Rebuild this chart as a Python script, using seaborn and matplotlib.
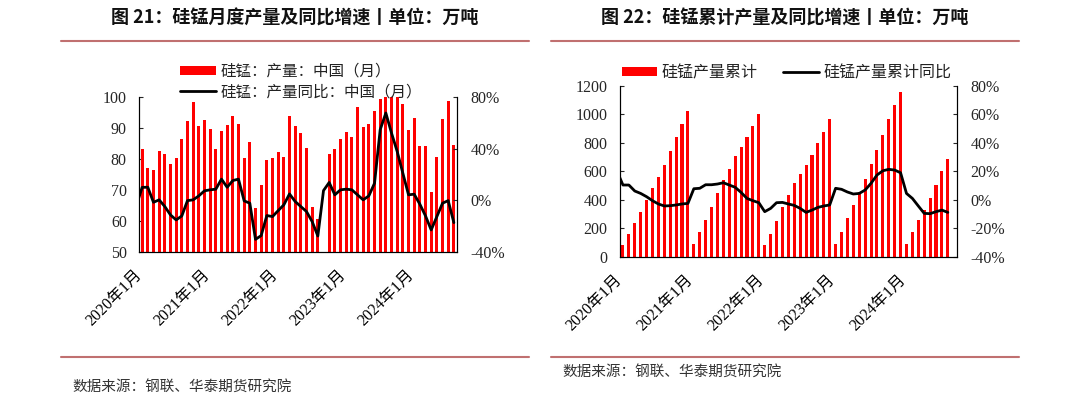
import numpy as np
import pandas as pd
import matplotlib
matplotlib.use("Agg")
import matplotlib.pyplot as plt
import seaborn as sns
from matplotlib.patches import Patch
from matplotlib.lines import Line2D
from matplotlib.transforms import ScaledTranslation

sns.set_theme(style="white")
plt.rcParams["font.family"] = ["Noto Sans CJK SC", "DejaVu Sans"]

# ---------------- data ----------------
tick_labels = ["2020年1月", "2021年1月", "2022年1月", "2023年1月", "2024年1月"]

# monthly production 2020-01 .. 2024-08 (万吨); 2022-09 missing in source chart
mon_prod = [83.2, 77.0, 76.6, 82.7, 81.6, 78.5, 80.3, 86.5, 92.3, 98.5, 90.6, 92.5,
            89.7, 83.4, 89.2, 91.0, 93.8, 91.5, 80.3, 85.5, 64.1, 71.5, 79.6, 80.3,
            82.3, 80.8, 93.8, 90.6, 88.3, 83.6, 64.4, 60.6, np.nan, 81.7, 83.3, 86.5,
            88.8, 87.0, 96.8, 90.5, 91.4, 95.6, 99.4, 102.5, 104.0, 108.0, 97.9, 89.4,
            93.2, 84.1, 84.3, 69.2, 80.6, 93.0, 98.8, 84.6]
# monthly yoy (%), first value is 2019-12 (clipped at the axis edge)
mon_yoy_prev = -4.0
mon_yoy = [10.0, 10.1, -1.6, 0.3, -4.9, -11.4, -15.3, -12.2, -0.3, 0.3, 3.4, 7.3,
           8.1, 8.6, 16.4, 10.1, 15.3, 16.4, -0.5, -2.3, -30.4, -27.5, -11.9, -12.7,
           -8.1, -3.6, 4.9, -1.0, -4.9, -8.8, -16.6, -27.8, 7.5, 13.8, 4.2, 8.1,
           8.6, 8.1, 4.2, 0.3, 3.4, 13.2, 54.8, 67.8, 52.2, 37.9, 21.0, 4.2,
           4.7, -3.1, -12.2, -23.1, -12.7, -2.3, -0.3, -17.4]

# cumulative production (万吨)
cum_prod = [80, 157, 234, 316, 398, 480, 559, 646, 739, 837, 931, 1022,
            87, 171, 260, 351, 444, 538, 617, 704, 767, 840, 919, 1001,
            80, 159, 253, 346, 433, 517, 580, 643, 711, 795, 877, 964,
            87, 171, 269, 360, 454, 545, 648, 751, 854, 964, 1064, 1153,
            89, 173, 257, 327, 409, 500, 603, 685]
cum_yoy_prev = 20.0
cum_yoy = [10.3, 10.3, 6.1, 4.4, 2.1, -0.7, -3.0, -4.4, -4.2, -3.7, -3.0, -2.6,
           7.7, 8.0, 10.5, 10.5, 11.0, 11.9, 10.3, 8.7, 5.1, 0.9, -0.7, -2.1,
           -8.4, -6.1, -2.1, -1.9, -3.0, -4.0, -6.1, -8.9, -7.3, -5.4, -4.4, -3.7,
           8.0, 7.3, 5.4, 4.0, 4.4, 6.8, 11.5, 17.3, 20.3, 21.3, 20.8, 18.9,
           4.4, 0.9, -4.4, -9.6, -9.8, -8.4, -7.3, -8.9]

RED = "#FF0000"
SERIF = ["Liberation Serif", "Noto Sans CJK SC"]
W, H = 1080, 397


def fx(px):
    return px / W


def fy(py):
    return 1 - py / H


fig = plt.figure(figsize=(W / 100, H / 100), dpi=100)
fig.patch.set_facecolor("white")


def style_axes(ax, ax2, nslots, lticks, lfmt, rticks):
    ax.set_xlim(-0.5, nslots - 0.5)
    ax.set_xticks([-0.5, 11.5, 23.5, 35.5, 47.5])
    ax.set_xticklabels(tick_labels, rotation=45, ha="right", va="center",
                       rotation_mode="anchor", fontfamily=SERIF, fontsize=11.5,
                       color="black")
    shift = ScaledTranslation(4 / 100, -2 / 100, fig.dpi_scale_trans)
    for lab in ax.get_xticklabels():
        lab.set_transform(lab.get_transform() + shift)
    ax.tick_params(axis="x", direction="in", length=3, pad=15, width=0.8, colors="black")
    ax.set_yticks(lticks)
    ax.set_yticklabels([lfmt(v) for v in lticks], fontfamily=SERIF, fontsize=11.5)
    ax.tick_params(axis="y", direction="in", length=3, pad=9, width=0.8)
    ax2.set_yticks(rticks)
    ax2.set_yticklabels([f"{v}%" for v in rticks], fontfamily=SERIF, fontsize=11.5)
    ax2.tick_params(axis="y", direction="in", length=3, pad=10, width=0.8)
    for a in (ax, ax2):
        a.set_xlabel("")
        a.set_ylabel("")
        a.spines["top"].set_visible(False)
        for s in ("left", "right", "bottom"):
            a.spines[s].set_color("black")
            a.spines[s].set_linewidth(0.8)
        a.grid(False)
    ax.patch.set_alpha(0)


# ---------------- left chart ----------------
axL = fig.add_axes([fx(139.3), fy(251.7), fx(456.7 - 139.3), (251.7 - 97.3) / H])
dfL = pd.DataFrame({"idx": np.arange(len(mon_prod)), "v": mon_prod})
sns.barplot(data=dfL, x="idx", y="v", order=list(range(len(mon_prod))), color=RED,
            saturation=1, width=0.52, linewidth=0, errorbar=None, ax=axL)
axL.set_ylim(50, 100)
axL2 = axL.twinx()
dfL2 = pd.DataFrame({"idx": np.arange(-1, len(mon_yoy)), "v": [mon_yoy_prev] + mon_yoy})
sns.lineplot(data=dfL2, x="idx", y="v", color="black", linewidth=2.0, ax=axL2)
axL2.set_ylim(-40, 80)
style_axes(axL, axL2, len(mon_prod), [50, 60, 70, 80, 90, 100], lambda v: f"{v}",
           [-40, 0, 40, 80])

# ---------------- right chart ----------------
axR = fig.add_axes([fx(620), fy(256.7), fx(956.7 - 620), (256.7 - 85.7) / H])
dfR = pd.DataFrame({"idx": np.arange(len(cum_prod)), "v": cum_prod})
sns.barplot(data=dfR, x="idx", y="v", order=list(range(len(cum_prod) + 1)), color=RED,
            saturation=1, width=0.52, linewidth=0, errorbar=None, ax=axR)
axR.set_ylim(0, 1200)
axR2 = axR.twinx()
dfR2 = pd.DataFrame({"idx": np.arange(-1, len(cum_yoy)), "v": [cum_yoy_prev] + cum_yoy})
sns.lineplot(data=dfR2, x="idx", y="v", color="black", linewidth=2.0, ax=axR2)
axR2.set_ylim(-40, 80)
style_axes(axR, axR2, len(cum_prod) + 1, list(range(0, 1201, 200)), lambda v: f"{v}",
           list(range(-40, 81, 20)))

# ---------------- legends ----------------
legL = fig.legend(handles=[Patch(facecolor=RED, edgecolor="none"),
                           Line2D([], [], color="black", lw=2.0)],
                  labels=["硅锰：产量：中国（月）", "硅锰：产量同比：中国（月）"],
                  loc="upper left", bbox_to_anchor=(fx(180), fy(63)), frameon=False,
                  fontsize=11.2, handlelength=2.3, handleheight=0.5, handletextpad=0.3,
                  labelspacing=0.2, borderpad=0, borderaxespad=0)
for t in legL.get_texts():
    t.set_color("#222222")

legR = fig.legend(handles=[Patch(facecolor=RED, edgecolor="none"),
                           Line2D([], [], color="black", lw=2.0)],
                  labels=["硅锰产量累计", "硅锰产量累计同比"], ncol=2,
                  loc="upper left", bbox_to_anchor=(fx(622), fy(64)), frameon=False,
                  fontsize=11.5, handlelength=2.2, handleheight=0.5, handletextpad=0.3,
                  columnspacing=1.6, borderpad=0, borderaxespad=0)
for t in legR.get_texts():
    t.set_color("#222222")

# ---------------- titles, rules, sources ----------------
fig.text(fx(294.5), fy(18), "图 21：硅锰月度产量及同比增速丨单位：万吨", ha="center",
         va="center", fontsize=13, fontweight="bold", color="#111111")
fig.text(fx(785), fy(18), "图 22：硅锰累计产量及同比增速丨单位：万吨", ha="center",
         va="center", fontsize=13, fontweight="bold", color="#111111")

RULE = "#C07070"
for x0, x1 in ((61, 529), (551, 1019)):
    fig.add_artist(Line2D([fx(x0), fx(x1)], [fy(41)] * 2, color=RULE, lw=1.5))
    fig.add_artist(Line2D([fx(x0), fx(x1)], [fy(356.7)] * 2, color=RULE, lw=1.5))

fig.text(fx(72), fy(386.7), "数据来源：钢联、华泰期货研究院", ha="left", va="center",
         fontsize=10.5, color="#333333")
fig.text(fx(562), fy(371.7), "数据来源：钢联、华泰期货研究院", ha="left", va="center",
         fontsize=10.5, color="#333333")

fig.savefig("out.png", dpi=100, facecolor="white")
